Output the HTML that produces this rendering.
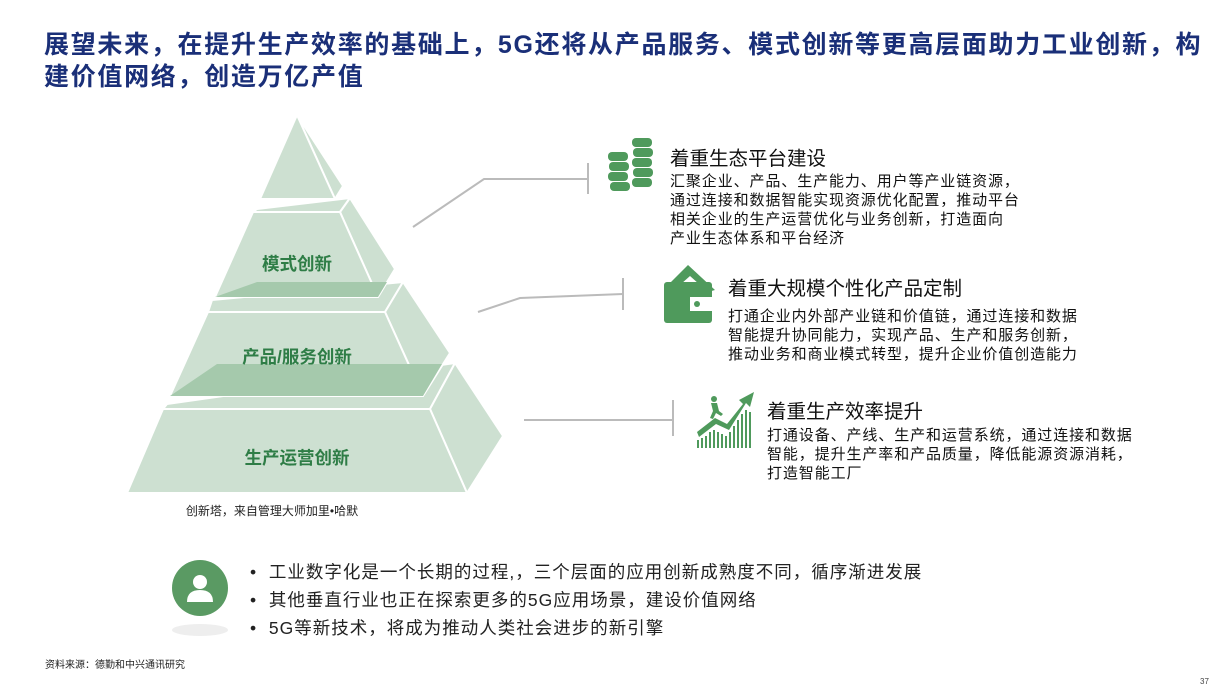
<!DOCTYPE html>
<html><head><meta charset="utf-8"><style>
body{margin:0;width:1223px;height:689px;background:#fff;position:relative;overflow:hidden;font-family:"Liberation Sans","Noto Sans CJK SC",sans-serif}
.a{position:absolute;white-space:nowrap}
.t{left:44px;font-size:25px;font-weight:bold;color:#1a2f78;letter-spacing:1.7px}
.h{font-size:19.5px;color:#111}
.b{font-size:15px;color:#111;line-height:19px;letter-spacing:0.9px}
.bl{font-size:17.5px;color:#222;left:250px;letter-spacing:1px}
</style></head><body>
<div class="a t" style="top:25px">展望未来，在提升生产效率的基础上，5G还将从产品服务、模式创新等更高层面助力工业创新，构</div>
<div class="a t" style="top:57px">建价值网络，创造万亿产值</div>

<svg class="a" style="left:0;top:0" width="1223" height="689">
<g stroke="#fff" stroke-width="2" stroke-linejoin="round">
<polygon points="167,404 455,363 430,409 163,409" fill="#cde0d1"/>
<polygon points="430,409 455,363 503,436 467,493" fill="#cde0d1"/>
<polygon points="163,409 430,409 467,493 127,493" fill="#cde0d1"/>
<polygon points="212,300 403,282 385,312 208,312" fill="#cde0d1"/>
<polygon points="385,312 403,282 450,353 423,396" fill="#cde0d1"/>
<polygon points="208,312 385,312 423,396 170,396" fill="#cde0d1"/>
<polygon points="217,364 442,364 423,396 170,396" fill="#a5c9ac" stroke="none"/>
<polygon points="257,209 350,198 340,212 253,212" fill="#cde0d1"/>
<polygon points="340,212 350,198 395,269 378,297" fill="#cde0d1"/>
<polygon points="253,212 340,212 378,297 215,297" fill="#cde0d1"/>
<polygon points="257,282 387,282 378,297 215,297" fill="#a5c9ac" stroke="none"/>
<polygon points="297,115 343,186 335,199" fill="#cde0d1"/>
<polygon points="297,115 335,199 260,199" fill="#cde0d1"/>
</g>
<g fill="#2e7d46" font-weight="bold" font-size="17.5" text-anchor="middle" font-family="Liberation Sans,Noto Sans CJK SC,sans-serif">
<text x="297" y="270">模式创新</text>
<text x="297" y="363">产品/服务创新</text>
<text x="297" y="464">生产运营创新</text>
</g>
<text x="272" y="515" font-size="12" text-anchor="middle" fill="#222" font-family="Liberation Sans,Noto Sans CJK SC,sans-serif">创新塔，来自管理大师加里•哈默</text>
<g stroke="#bbb" stroke-width="2" fill="none">
<polyline points="413,227 484,179 588,179"/><line x1="588" y1="163" x2="588" y2="194"/>
<polyline points="478,312 520,298 623,294"/><line x1="623" y1="278" x2="623" y2="310"/>
<line x1="524" y1="420" x2="673" y2="420"/><line x1="673" y1="400" x2="673" y2="436"/>
</g>
<g fill="#4f9a5c">
<rect x="608" y="152" width="20" height="9" rx="4"/><rect x="609" y="162" width="20" height="9" rx="4"/><rect x="608" y="172" width="20" height="9" rx="4"/><rect x="610" y="182" width="20" height="9" rx="4"/>
<rect x="632" y="138" width="20" height="9" rx="4"/><rect x="633" y="148" width="20" height="9" rx="4"/><rect x="632" y="158" width="20" height="9" rx="4"/><rect x="633" y="168" width="20" height="9" rx="4"/><rect x="632" y="178" width="20" height="9" rx="4"/>
</g>
<g fill="#4f9a5c">
<polygon points="688,265 715,290 708,292 690,276 672,292 665,288"/>
<rect x="664" y="282" width="48" height="41" rx="3"/>
<rect x="690" y="297" width="24" height="14" fill="#fff"/>
<circle cx="697" cy="304" r="3"/>
</g>
<g fill="#4f9a5c">
<circle cx="714" cy="399" r="3"/>
<path d="M711 403 l6 0 l2 8 l4 3 l-2 2 l-5 -3 l-3 6 l-3 -1 l3 -7 z"/>
<polygon points="697,432 715,418 727,424 743,404 739,400 754,392 750,407 746,403 729,430 716,424 699,437"/>
<rect x="697" y="440" width="2" height="8"/><rect x="701" y="438" width="2" height="10"/><rect x="705" y="436" width="2" height="12"/><rect x="709" y="432" width="2" height="16"/><rect x="713" y="430" width="2" height="18"/><rect x="717" y="432" width="2" height="16"/><rect x="721" y="434" width="2" height="14"/><rect x="725" y="436" width="2" height="12"/><rect x="729" y="432" width="2" height="16"/><rect x="733" y="426" width="2" height="22"/><rect x="737" y="420" width="2" height="28"/><rect x="741" y="414" width="2" height="34"/><rect x="745" y="410" width="2" height="38"/><rect x="749" y="412" width="2" height="36"/>
</g>
<ellipse cx="200" cy="630" rx="28" ry="6" fill="#eee"/>
<circle cx="200" cy="588" r="28" fill="#5a9a63"/>
<circle cx="200" cy="582" r="7" fill="#fff"/>
<path d="M187 602 q0 -12 13 -12 q13 0 13 12 z" fill="#fff"/>
</svg>

<div class="a h" style="left:670px;top:142px">着重生态平台建设</div>
<div class="a b" style="left:670px;top:172px">汇聚企业、产品、生产能力、用户等产业链资源，<br>通过连接和数据智能实现资源优化配置，推动平台<br>相关企业的生产运营优化与业务创新，打造面向<br>产业生态体系和平台经济</div>
<div class="a h" style="left:728px;top:272px">着重大规模个性化产品定制</div>
<div class="a b" style="left:728px;top:307px">打通企业内外部产业链和价值链，通过连接和数据<br>智能提升协同能力，实现产品、生产和服务创新，<br>推动业务和商业模式转型，提升企业价值创造能力</div>
<div class="a h" style="left:767px;top:395px">着重生产效率提升</div>
<div class="a b" style="left:767px;top:426px">打通设备、产线、生产和运营系统，通过连接和数据<br>智能，提升生产率和产品质量，降低能源资源消耗，<br>打造智能工厂</div>

<div class="a bl" style="top:559px">•&nbsp;&nbsp;工业数字化是一个长期的过程,，三个层面的应用创新成熟度不同，循序渐进发展</div>
<div class="a bl" style="top:587px">•&nbsp;&nbsp;其他垂直行业也正在探索更多的5G应用场景，建设价值网络</div>
<div class="a bl" style="top:615px">•&nbsp;&nbsp;5G等新技术，将成为推动人类社会进步的新引擎</div>
<div class="a" style="left:45px;top:656px;font-size:10px;color:#222">资料来源：德勤和中兴通讯研究</div>
<div class="a" style="left:1200px;top:677px;font-size:8px;color:#444">37</div>
</body></html>
